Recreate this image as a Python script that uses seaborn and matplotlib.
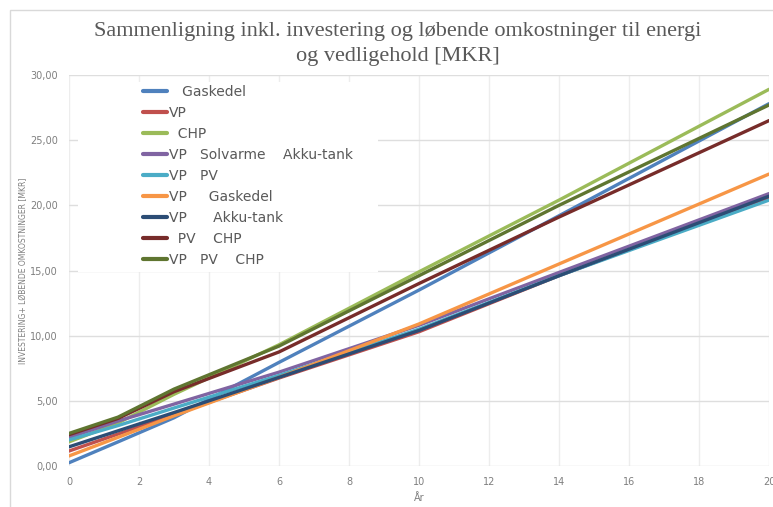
import matplotlib
matplotlib.use("Agg")
import matplotlib.pyplot as plt
from matplotlib.patches import Rectangle
import numpy as np
import pandas as pd
import seaborn as sns

# Years at which each cost curve is sampled
years = [0, 1.4, 3, 6, 10, 14, 20]

# Accumulated investment + running cost [MKR] per scenario
gaskedel = [0.25, 1.85, 3.70, 7.95, 13.5, 19.2, 27.8]
vp = [1.15, 2.45, 3.95, 6.75, 10.3, 14.6, 20.6]
chp = [1.85, 3.30, 5.50, 9.30, 14.9, 20.4, 28.9]
vp_sol_akku = [2.18, 3.45, 4.75, 7.20, 10.8, 14.85, 20.9]
vp_pv = [2.00, 3.10, 4.45, 6.95, 10.5, 14.6, 20.4]
vp_gaskedel = [0.77, 2.20, 3.85, 6.80, 10.9, 15.5, 22.4]
vp_akku = [1.47, 2.70, 4.10, 6.80, 10.4, 14.6, 20.7]
pv_chp = [2.40, 3.65, 5.70, 8.75, 14.0, 19.1, 26.5]
vp_pv_chp = [2.50, 3.75, 5.90, 9.20, 14.6, 20.0, 27.7]

labels = [
    "   Gaskedel",
    "VP",
    "  CHP",
    "VP   Solvarme    Akku-tank",
    "VP   PV",
    "VP     Gaskedel",
    "VP      Akku-tank",
    "  PV    CHP",
    "VP   PV    CHP",
]
series = [gaskedel, vp, chp, vp_sol_akku, vp_pv, vp_gaskedel, vp_akku, pv_chp, vp_pv_chp]
colors = ["#4F81BD", "#C0504D", "#9BBB59", "#8064A2", "#4BACC6",
          "#F79646", "#2C4D75", "#772C2A", "#5F7530"]

x_ticks = [0, 2, 4, 6, 8, 10, 12, 14, 16, 18, 20]
y_ticks = [0, 5, 10, 15, 20, 25, 30]

df = pd.concat(
    [pd.DataFrame({"År": years, "Omkostning": vals, "Løsning": lab})
     for vals, lab in zip(series, labels)],
    ignore_index=True,
)

sns.set_style("white")
plt.rcParams["font.family"] = ["DejaVu Sans"]

fig = plt.figure(figsize=(7.73, 5.07), dpi=100)
ax = fig.add_axes([69 / 773, 1 - 466 / 507, 700 / 773, 391 / 507])

# outer chart frame
fig.patches.append(Rectangle((10 / 773, -0.2), 1.2, 1.2 - 10 / 507,
                             transform=fig.transFigure, fill=False,
                             edgecolor="#D9D9D9", linewidth=1.0))

sns.lineplot(data=df, x="År", y="Omkostning", hue="Løsning", hue_order=labels,
             palette=colors, linewidth=2.4, ax=ax, legend=False, sort=False)

ax.set_xlim(0, 20)
ax.set_ylim(0, 30)
ax.set_xticks(x_ticks)
ax.set_xticklabels([str(t) for t in x_ticks])
ax.set_yticks(y_ticks)
ax.set_yticklabels([f"{t:.2f}".replace(".", ",") for t in y_ticks])
ax.tick_params(axis="both", length=0, labelsize=7, labelcolor="#7F7F7F", pad=8)
for s in ax.spines.values():
    s.set_visible(False)
ax.grid(True, axis="y", color="#DEDEDE", linewidth=1.0)
ax.grid(True, axis="x", color="#EDEDED", linewidth=1.0)
ax.set_axisbelow(True)

ax.set_xlabel("År", fontsize=7, color="#7F7F7F", labelpad=4)
ax.set_ylabel("INVESTERING+ LØBENDE OMKOSTNINGER [MKR]", fontsize=5.5,
              color="#7F7F7F", labelpad=1)

# white area behind the legend
ax.add_patch(Rectangle((9 / 700, (466 - 272) / 391), 300 / 700, 190 / 391,
                       transform=ax.transAxes, facecolor="white",
                       edgecolor="none", zorder=1.5))

handles = [plt.Line2D([], [], color=c, linewidth=3) for c in colors]
leg = fig.legend(handles, labels, loc="upper left",
                 bbox_to_anchor=(143 / 773, 1 - 85 / 507),
                 bbox_transform=fig.transFigure, frameon=False,
                 fontsize=10, handlelength=1.75, handletextpad=0.1,
                 labelspacing=0.5, borderpad=0, borderaxespad=0)
for t in leg.get_texts():
    t.set_color("#595959")

fig.text(398 / 773, 1 - 44 / 507,
         "Sammenligning inkl. investering og løbende omkostninger til energi\n"
         "og vedligehold [MKR]",
         ha="center", va="center", fontsize=16, color="#595959",
         family="Liberation Serif", linespacing=1.45)

fig.savefig("out.png", dpi=100)
